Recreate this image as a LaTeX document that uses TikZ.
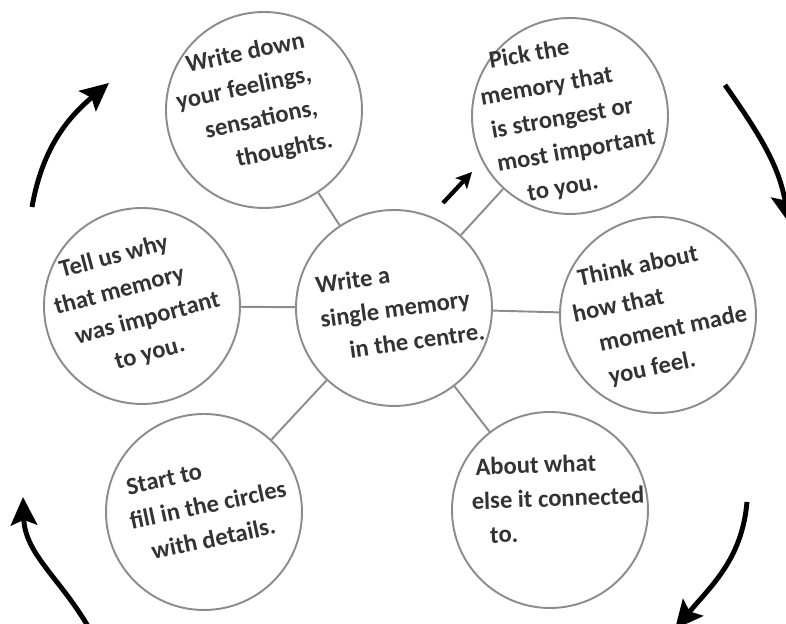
\documentclass[tikz,border=0pt]{standalone}
\usepackage{fontspec}
\setmainfont{Carlito}
\usepackage{tikz}
\usetikzlibrary{arrows.meta}
\tikzstyle{bubble} = [circle, draw=black!45, line width=1.1pt, minimum size=3.92cm, inner sep=0pt]
\tikzstyle{note} = [align=left, inner sep=0pt, text=black!80, font=\bfseries\fontsize{14}{19.5}\selectfont]
\tikzstyle{link} = [draw=black!45, line width=1.1pt]
\tikzstyle{arrow} = [line width=2.8pt,-{Stealth[length=16pt,width=15pt,inset=3pt]}]

\begin{document}
\begin{tikzpicture}
                        \useasboundingbox (-7.88,-6.32) rectangle (7.84,6.16);
                        % circles
                        \node[bubble] (centre) at (0,0) {};
                        \node[bubble] (feelings) at (-2.6,3.96) {};
                        \node[bubble] (pick) at (3.52,3.84) {};
                        \node[bubble] (why) at (-5.04,0.04) {};
                        \node[bubble] (moment) at (5.28,-0.14) {};
                        \node[bubble] (start) at (-3.8,-4.08) {};
                        \node[bubble] (connected) at (3.12,-4.04) {};

                        % handwriting
                        \node[note,rotate=8] (centretext) at (0.12,0)
                            {Write a\\ single memory\\ \hspace{1em}in the centre.};
                        \node[note,rotate=12] (feelingstext) at (-2.86,4.06)
                            {\hspace{0.7em}Write down\\ your feelings,\\ \hspace{0.9em}sensations,\\ \hspace{1.9em}thoughts.};
                        \node[note,rotate=10] (picktext) at (3.48,3.8)
                            {\hspace{0.6em}Pick the\\ memory that\\ \hspace{0.2em}is strongest or\\ \hspace{0.2em}most important\\ \hspace{1.2em}to you.};
                        \node[note,rotate=15] (whytext) at (-5.14,0.08)
                            {\hspace{0.6em}Tell us why\\ that memory\\ \hspace{0.5em}was important\\ \hspace{1.8em}to you.};
                        \node[note,rotate=12] (momenttext) at (5.32,-0.14)
                            {\hspace{0.5em}Think about\\ how that\\ \hspace{0.8em}moment made\\ \hspace{0.9em}you feel.};
                        \node[note,rotate=12] (starttext) at (-3.72,-3.94)
                            {\hspace{0.15em}Start to\\ fill in the circles\\ \hspace{0.6em}with details.};
                        \node[note,rotate=2] (connectedtext) at (3.28,-3.8)
                            {\hspace{0.2em}About what\\ else it connected\\ \hspace{0.7em}to.};

                        % spokes
                        \draw[link] (centre) -- (feelings);
                        \draw[link] (centre) -- (pick);
                        \draw[link] (centre) -- (why);
                        \draw[link] (centre) -- (moment);
                        \draw[link] (centre) -- (start);
                        \draw[link] (centre) -- (connected);

                        % turning arrows
                        \coordinate (tl0) at (-7.24,2.02);
                        \coordinate (tl1) at (-5.7,4.5);
                        \coordinate (tr0) at (6.62,4.46);
                        \coordinate (tr1) at (7.9,1.7);
                        \coordinate (br0) at (7.06,-3.88);
                        \coordinate (br1) at (5.62,-6.42);
                        \coordinate (bl0) at (-6.1,-6.4);
                        \coordinate (bl1) at (-7.42,-3.78);
                        \coordinate (go0) at (0.98,2.1);
                        \coordinate (go1) at (1.56,2.72);
                        \draw[arrow] (tl0) to[out=80,in=220] (tl1);
                        \draw[arrow] (tr0) to[out=-55,in=100] (tr1);
                        \draw[arrow] (br0) to[out=-95,in=50] (br1);
                        \draw[arrow] (bl0) to[out=120,in=-88] (bl1);
                        \draw[line width=2.4pt,-{Stealth[length=9pt,width=9pt,inset=2pt]}] (go0) -- (go1);
                    \end{tikzpicture}
\end{document}
